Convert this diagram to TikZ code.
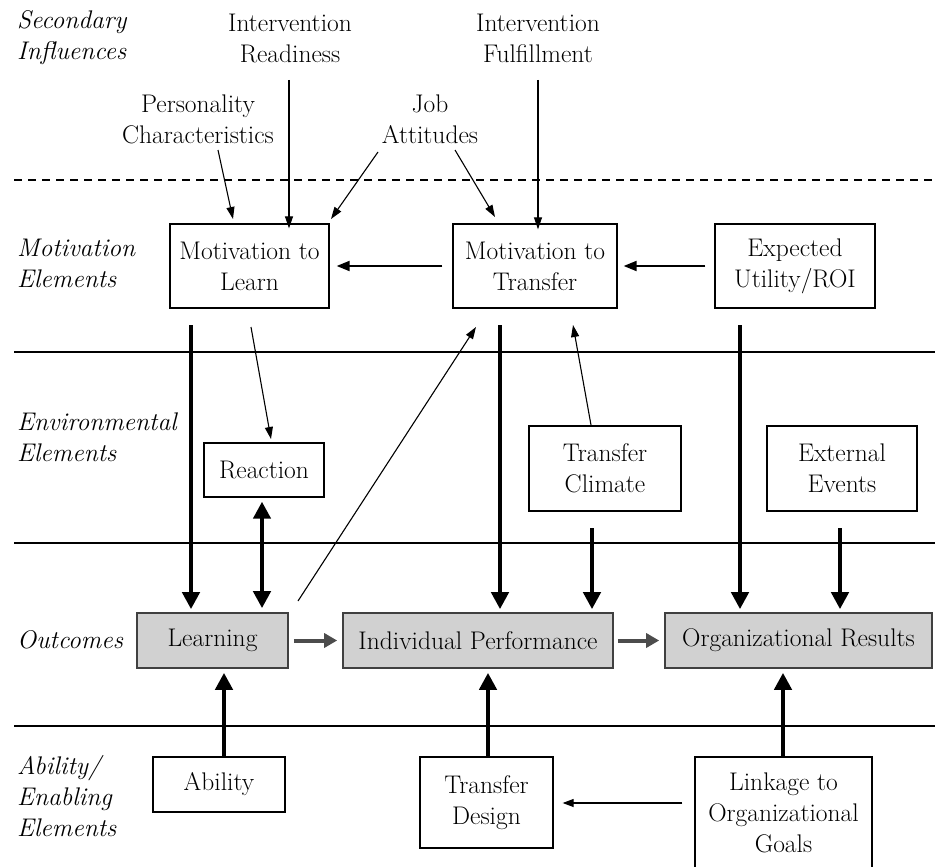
\documentclass[tikz,border=0pt]{standalone}
\usetikzlibrary{arrows.meta}
\begin{document}
\begin{tikzpicture}[x=1pt,y=-1pt,
  every node/.style={font=\fontsize{25.5}{31}\selectfont, inner sep=0pt},
  box/.style={draw, line width=1.3pt, align=center},
  outbox/.style={draw=black!75, fill=black!18, line width=1.6pt, align=center},
  rowlabel/.style={anchor=west, align=left, font=\fontsize{25.5}{31}\selectfont\itshape},
  infl/.style={align=center},
  sep/.style={line width=1.2pt},
  thickarr/.style={line width=4.6pt, -{Triangle[width=17pt,length=17pt]}},
  thickdbl/.style={line width=4.6pt, {Triangle[width=17pt,length=17pt]}-{Triangle[width=17pt,length=17pt]}},
  thinarr/.style={line width=1.1pt, -{Triangle[width=8pt,length=12pt]}},
  midarr/.style={line width=2pt, -{Triangle[width=10pt,length=13pt]}},
  grayarr/.style={draw=black!70, line width=4pt, -{Triangle[width=14pt,length=13pt]}}
]
\useasboundingbox (0,0) rectangle (935,867);

% separators
\draw[sep, dash pattern=on 8pt off 6pt] (14,180) -- (935,180);
\draw[sep] (14,352) -- (935,352);
\draw[sep] (14,543) -- (935,543);
\draw[sep] (14,726) -- (935,726);

% row labels
\node[rowlabel] (lsec) at (17,38) {Secondary\\Influences};
\node[rowlabel] (lmot) at (17,263) {Motivation\\Elements};
\node[rowlabel] (lenv) at (17,437) {Environmental\\Elements};
\node[rowlabel] (lout) at (17,640) {Outcomes};
\node[rowlabel] (labl) at (17,796) {Ability/\\Enabling\\Elements};

% secondary influences
\node[infl] (ir) at (290,38) {Intervention\\Readiness};
\node[infl] (if) at (538,38) {Intervention\\Fulfillment};
\node[infl] (pc) at (198,119) {Personality\\Characteristics};
\node[infl] (ja) at (430,119) {Job\\Attitudes};

% motivation elements
\node[box, minimum width=159, minimum height=84] (ml) at (249.5,266) {Motivation to\\Learn};
\node[box, minimum width=164, minimum height=84] (mt) at (535,266) {Motivation to\\Transfer};
\node[box, minimum width=160, minimum height=84] (eu) at (795,266) {Expected\\Utility/ROI};

% environmental elements
\node[box, minimum width=120, minimum height=54] (re) at (264,470) {Reaction};
\node[box, minimum width=152, minimum height=85] (tc) at (605,468.5) {Transfer\\Climate};
\node[box, minimum width=150, minimum height=85] (ee) at (842,468.5) {External\\Events};

% outcomes
\node[outbox, minimum width=151, minimum height=55] (le) at (212.5,640.5) {Learning};
\node[outbox, minimum width=270, minimum height=55] (ip) at (478,640.5) {Individual Performance};
\node[outbox, minimum width=267, minimum height=55] (or) at (798.5,640.5) {Organizational Results};

% ability / enabling
\node[box, minimum width=132, minimum height=55] (ab) at (219,784.5) {Ability};
\node[box, minimum width=133, minimum height=91] (td) at (486.5,802.5) {Transfer\\Design};
\node[box, minimum width=177, minimum height=112] (lk) at (783.5,813) {Linkage to\\Organizational\\Goals};

% coordinates for free ends
\coordinate (irs) at (289,80);
\coordinate (ifs) at (538,80);
\coordinate (pcs) at (218,150);
\coordinate (pce) at (233,219);
\coordinate (jas1) at (378,152);
\coordinate (jae1) at (331,219);
\coordinate (jas2) at (455,150);
\coordinate (jae2) at (495,217);

% influence arrows
\draw[thinarr] (irs) -- ([yshift=-5pt]irs |- ml.north);
\draw[thinarr] (ifs) -- ([yshift=-6pt]ifs |- mt.north);
\draw[thinarr] (pcs) -- (pce);
\draw[thinarr] (jas1) -- (jae1);
\draw[thinarr] (jas2) -- (jae2);

% horizontal motivation arrows
\draw[midarr, shorten <=9pt, shorten >=6pt] (eu.west) -- (mt.east);
\draw[midarr, shorten <=10pt, shorten >=7pt] (mt.west) -- (ml.east);

% thick down arrows
\coordinate (d1) at (191,325);
\coordinate (d2) at (500,325);
\coordinate (d3) at (740,325);
\draw[thickarr, shorten >=3pt] (d1) -- (d1 |- le.north);
\draw[thickarr, shorten >=3pt] (d2) -- (d2 |- ip.north);
\draw[thickarr, shorten >=3pt] (d3) -- (d3 |- or.north);
\coordinate (c1) at (592,528);
\coordinate (c2) at (840,528);
\draw[thickarr, shorten >=3pt] (c1) -- (c1 |- ip.north);
\draw[thickarr, shorten >=3pt] (c2) -- (c2 |- or.north);

% reaction <-> learning
\coordinate (rx) at (262,0);
\draw[thickdbl, shorten <=4pt, shorten >=4pt] (rx |- re.south) -- (rx |- le.north);

% thin diagonal arrows
\coordinate (m1) at (251,327);
\coordinate (m2) at (271,439);
\draw[thinarr] (m1) -- (m2);
\coordinate (l1) at (298,601);
\coordinate (l2) at (476,327);
\draw[thinarr] (l1) -- (l2);
\coordinate (t1) at (591,425);
\coordinate (t2) at (573,325);
\draw[thinarr] (t1) -- (t2);

% outcome chain
\draw[grayarr, shorten <=5pt, shorten >=5pt] (le.east) -- (ip.west);
\draw[grayarr, shorten <=4pt, shorten >=5pt] (ip.east) -- (or.west);

% upward arrows
\coordinate (u1) at (224,0);
\coordinate (u2) at (488,0);
\coordinate (u3) at (783,0);
\draw[thickarr, shorten >=4pt] (u1 |- ab.north) -- (u1 |- le.south);
\draw[thickarr, shorten >=4pt] (u2 |- td.north) -- (u2 |- ip.south);
\draw[thickarr, shorten >=4pt] (u3 |- lk.north) -- (u3 |- or.south);

% linkage -> transfer design
\coordinate (ly) at (0,803);
\draw[line width=1.1pt, -{Triangle[width=8pt,length=11pt]}, shorten <=12pt, shorten >=9pt] (ly -| lk.west) -- (ly -| td.east);
\end{tikzpicture}
\end{document}
